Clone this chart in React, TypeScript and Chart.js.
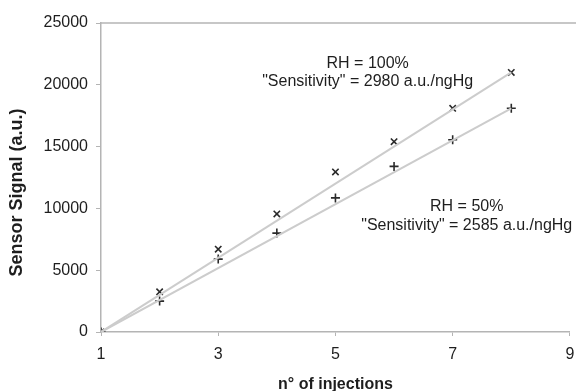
import React, { useEffect, useRef } from "react";
import { Chart, registerables } from "chart.js";

Chart.register(...registerables);

const injections = [1, 2, 3, 4, 5, 6, 7, 8];
const rh100Values = [0, 3250, 6700, 9550, 12950, 15400, 18100, 21000];
const rh50Values = [0, 2500, 5900, 8000, 10850, 13400, 15550, 18100];
const trendX = [1, 8];
const trend100 = [0, 21000];
const trend50 = [0, 18100];
const xTicks = [1, 3, 5, 7, 9];
const yTicks = [0, 5000, 10000, 15000, 20000, 25000];

const FONT = "'Liberation Sans', Arial, sans-serif";
const AXIS_GRAY = "#b4b4b4";
const TEXT = "#1e1e1e";

const annotationPlugin = {
  id: "annots",
  afterDraw(chart: any) {
    const { ctx, scales, chartArea } = chart;
    const xs = scales.x;
    const ys = scales.y;
    ctx.save();
    ctx.strokeStyle = AXIS_GRAY;
    ctx.lineWidth = 1.5;
    ctx.beginPath();
    ctx.moveTo(chartArea.left - 1, chartArea.top);
    ctx.lineTo(chart.width, chartArea.top);
    ctx.stroke();

    ctx.fillStyle = TEXT;
    ctx.font = `16px ${FONT}`;
    ctx.textAlign = "center";
    ctx.textBaseline = "middle";
    const lines = [
      { x: 5.55, y: 21700, t: "RH = 100%" },
      { x: 5.55, y: 20250, t: "\"Sensitivity\" = 2980 a.u./ngHg" },
      { x: 7.24, y: 10140, t: "RH = 50%" },
      { x: 7.24, y: 8640, t: "\"Sensitivity\" = 2585 a.u./ngHg" },
    ];
    for (const l of lines) {
      ctx.fillText(l.t, xs.getPixelForValue(l.x), ys.getPixelForValue(l.y));
    }
    ctx.restore();
  },
};

export default function App() {
  const ref = useRef<HTMLCanvasElement>(null);
  useEffect(() => {
    if (!ref.current) return;
    const chart = new Chart(ref.current, {
      type: "scatter",
      data: {
        datasets: [
          {
            type: "line",
            label: "trend 100",
            data: trendX.map((x, i) => ({ x, y: trend100[i] })),
            borderColor: "#cccccc",
            borderWidth: 2,
            pointRadius: 0,
            showLine: true,
          },
          {
            type: "line",
            label: "trend 50",
            data: trendX.map((x, i) => ({ x, y: trend50[i] })),
            borderColor: "#cccccc",
            borderWidth: 2,
            pointRadius: 0,
            showLine: true,
          },
          {
            label: "RH = 100%",
            data: injections.map((x, i) => ({ x, y: rh100Values[i] })),
            pointStyle: "crossRot",
            pointRadius: 4.5,
            borderColor: "#2a2a2a",
            borderWidth: 1.6,
          },
          {
            label: "RH = 50%",
            data: injections.map((x, i) => ({ x, y: rh50Values[i] })),
            pointStyle: "cross",
            pointRadius: 4.5,
            borderColor: "#2a2a2a",
            borderWidth: 1.6,
          },
        ],
      },
      options: {
        animation: false,
        responsive: false,
        layout: { padding: { left: 0, top: 23, right: 2, bottom: 0 } },
        plugins: {
          legend: { display: false },
          tooltip: { enabled: false },
        },
        scales: {
          x: {
            type: "linear",
            min: 1,
            max: 9,
            afterBuildTicks: (s: any) => {
              s.ticks = xTicks.map((v) => ({ value: v }));
            },
            afterFit: (s: any) => {
              s.height = 59;
              s.paddingLeft = 0;
              s.paddingRight = 0;
            },
            grid: {
              drawOnChartArea: false,
              drawTicks: true,
              tickLength: 4,
              color: AXIS_GRAY,
            },
            border: { color: AXIS_GRAY, width: 1.5 },
            ticks: {
              color: TEXT,
              font: { family: FONT, size: 16 },
              padding: 9,
              maxRotation: 0,
            },
            title: {
              display: true,
              text: "n° of injections",
              color: TEXT,
              font: { family: FONT, size: 16, weight: "bold" },
              padding: { top: 0, bottom: -3 },
            },
          },
          y: {
            type: "linear",
            min: 0,
            max: 25000,
            afterBuildTicks: (s: any) => {
              s.ticks = yTicks.map((v) => ({ value: v }));
            },
            afterFit: (s: any) => {
              s.width = 101;
              s.paddingTop = 0;
              s.paddingBottom = 0;
            },
            grid: {
              drawOnChartArea: false,
              drawTicks: true,
              tickLength: 5,
              color: AXIS_GRAY,
            },
            border: { color: AXIS_GRAY, width: 1.5 },
            ticks: {
              color: TEXT,
              font: { family: FONT, size: 16 },
              padding: 8,
              callback: (v: any) => String(v),
            },
            title: {
              display: true,
              text: "Sensor Signal (a.u.)      ",
              color: TEXT,
              font: { family: FONT, size: 18, weight: "bold" },
              padding: { top: 6, bottom: 0 },
            },
          },
        },
      },
      plugins: [annotationPlugin],
    } as any);
    return () => chart.destroy();
  }, []);
  return (
    <div style={{ position: "absolute", left: 0, top: 0, width: 576, height: 391, background: "#fff" }}>
      <canvas ref={ref} width={576} height={391} style={{ display: "block" }} />
    </div>
  );
}
